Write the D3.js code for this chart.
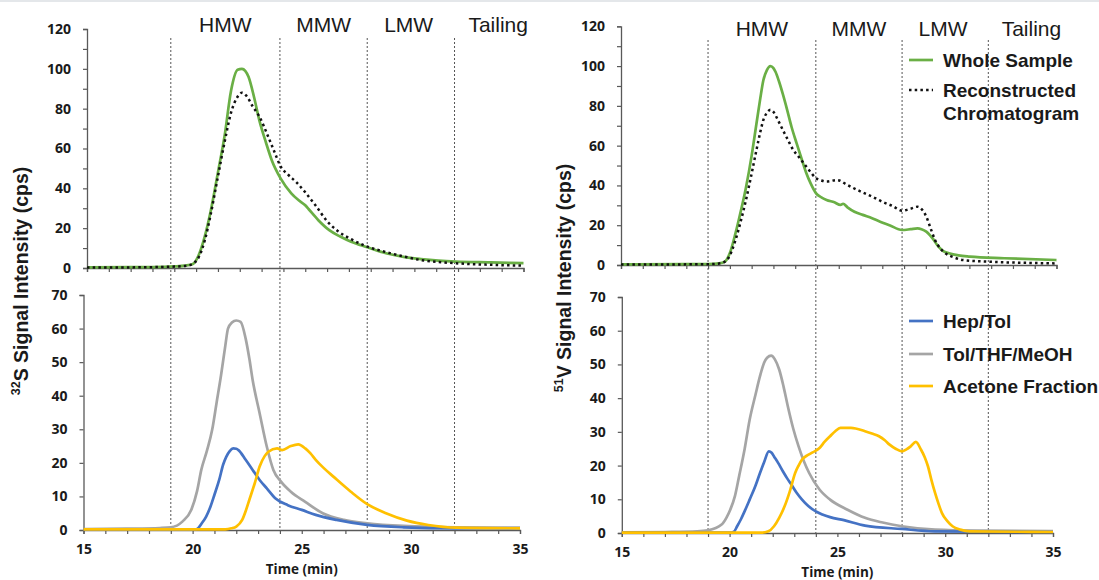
<!DOCTYPE html>
<html><head><meta charset="utf-8">
<script src="https://cdn.jsdelivr.net/npm/d3@7"></script>
<style>body{margin:0;background:#fff}svg{display:block}</style>
</head><body>
<svg id="c" width="1099" height="580"></svg>
<script>
// ---------- DATA ----------
const regionBounds = [19, 24, 28, 32];
const regionLabels = ["HMW", "MMW", "LMW", "Tailing"];
const regionLabelPos = [21.5, 26, 29.9, 34];
const xTicksMajor = [15, 20, 25, 30, 35];

// 32S panel, whole sample vs reconstructed
const sWhole = [[15,0.3],[17,0.4],[18.5,0.6],[19,0.8],[19.5,1.2],[19.85,2],[20.1,6],[20.4,16],[20.65,27.6],[21,48],[21.3,66],[21.6,89],[21.9,99.5],[22.1,100],[22.25,99],[22.4,96],[22.65,86],[22.9,74],[23.2,63],[23.47,54],[23.87,45],[24.36,37.5],[24.7,34],[25.0,31.5],[25.16,29.5],[25.6,24],[26.1,19],[26.6,15.8],[27.1,13.2],[27.85,10.4],[28.7,7.4],[29.5,5.6],[30.3,4.5],[31.1,3.7],[31.9,3.2],[33.5,2.8],[35,2.4]];
const sRecon = [[15,0.2],[17,0.3],[19,0.7],[19.6,1.2],[19.9,2.5],[20.1,5],[20.4,14],[20.65,26],[21,46],[21.3,63],[21.6,78],[21.9,86],[22.1,88],[22.3,86.5],[22.6,81],[22.9,76],[23.3,66],[23.6,58],[23.87,51],[24.2,47],[24.6,43],[25.0,38],[25.5,31],[26.0,23.5],[26.5,18.5],[27.1,14.5],[27.85,10.7],[28.7,8],[29.5,5.8],[30.3,4],[31.9,2.4],[33.5,1.6],[35,1.2]];
// 32S panel, fractions
const sHepTol = [[15,0.1],[20,0.1],[20.2,0.3],[20.42,2],[20.62,4],[20.82,7],[21.0,10.5],[21.22,15],[21.4,19.5],[21.54,21.8],[21.7,23.5],[21.86,24.3],[22.0,24.2],[22.1,23.8],[22.43,20.9],[22.75,17.9],[23.07,14.9],[23.4,12.4],[23.8,9.4],[24.36,7.4],[25.0,6],[25.64,4.5],[26.6,3],[28,1.5],[29.66,0.8],[32,0.5],[35,0.5]];
const sTolThf = [[15,0.3],[17,0.4],[18.5,0.6],[19,0.8],[19.53,2.5],[19.94,6],[20.2,11.5],[20.4,18],[20.65,23.5],[20.9,30],[21.1,38],[21.3,46],[21.5,55],[21.62,60],[21.8,61.8],[22.0,62.4],[22.2,62],[22.43,57],[22.6,51],[22.75,44.7],[23.07,34.8],[23.4,24.8],[23.7,17.9],[24.05,14.4],[24.5,11.4],[25.16,8.4],[25.96,5],[26.93,3],[28,2],[29.66,1.2],[32.07,0.8],[35,0.7]];
const sAcetone = [[15,0.2],[21.5,0.2],[21.78,0.5],[22.0,1],[22.27,3],[22.45,6],[22.6,9],[22.85,14],[23.07,18.9],[23.3,22],[23.47,23.3],[23.87,24.3],[24.1,23.8],[24.5,25],[24.84,25.5],[25.16,24.3],[25.4,22.8],[25.64,20.9],[26.0,18.5],[26.45,15.9],[27.25,11.4],[28,7.7],[28.86,5],[29.82,2.8],[30.8,1.5],[32.07,0.7],[35,0.5]];

// 51V panel, whole sample vs reconstructed
const vWhole = [[15,0.3],[18,0.4],[19,0.5],[19.5,0.8],[19.77,1.7],[20.0,6],[20.26,16],[20.5,27],[20.74,39],[21.0,55],[21.22,71],[21.4,84],[21.54,93],[21.7,98],[21.86,100],[22.0,99],[22.1,97],[22.25,92.5],[22.43,86],[22.63,78],[22.83,69.5],[23.07,61],[23.31,52.8],[23.5,46.5],[23.71,41],[23.96,36],[24.2,34],[24.44,32.7],[24.8,31.5],[25.08,30.2],[25.2,30.8],[25.4,29],[25.72,26.8],[26.1,25.2],[26.53,23.5],[26.9,21.8],[27.33,20],[27.9,17.6],[28.3,18],[28.62,18.4],[28.8,18],[29.02,16.8],[29.3,13.5],[29.58,9.2],[29.8,7],[30.06,5.9],[30.5,4.8],[31.03,4.2],[32.6,3.4],[35,2.5]];
const vRecon = [[15,0.2],[19,0.4],[19.6,0.9],[19.9,3],[20.26,12.6],[20.5,22],[20.74,32.7],[21.0,46],[21.22,57.8],[21.4,67],[21.54,73],[21.7,76.5],[21.86,78],[22.0,77],[22.2,73],[22.45,67.5],[22.67,62.8],[22.9,58],[23.15,54.5],[23.4,51],[23.63,47.8],[23.96,43.6],[24.2,42.5],[24.44,42],[24.92,42.7],[25.4,40.2],[25.8,38],[26.2,36],[26.6,34],[27.0,31.8],[27.5,29.5],[27.9,27.3],[28.3,28.3],[28.62,29.3],[28.85,27.5],[29.02,24.3],[29.2,19],[29.42,12.6],[29.65,8.5],[29.9,5.9],[30.3,3.8],[30.7,2.5],[31.8,1.7],[33.5,1.1],[35,0.8]];
// 51V panel, fractions
const vHepTol = [[15,0.1],[20.0,0.1],[20.2,0.4],[20.35,2],[20.52,4],[20.7,6.5],[20.93,9.9],[21.2,14],[21.41,17.8],[21.6,21],[21.82,24.2],[21.95,23.8],[22.06,22.7],[22.25,20.8],[22.47,18.3],[22.67,16.2],[22.87,14.3],[23.1,12],[23.36,9.9],[23.65,8],[24.0,6.4],[24.3,5.5],[24.66,4.7],[25.3,3.8],[26.28,2.2],[27.99,1.2],[29.5,0.5],[35,0.3]];
const vTolThf = [[15,0.2],[17,0.3],[18.5,0.5],[19,0.8],[19.63,2.5],[19.85,4.5],[20.03,6.9],[20.25,11],[20.44,16.8],[20.7,25],[20.93,33.6],[21.2,41],[21.41,46.5],[21.6,50.5],[21.74,52],[21.93,52.6],[22.1,51.5],[22.3,48.5],[22.5,43.5],[22.7,37.6],[22.95,31],[23.2,25.7],[23.45,21.2],[23.69,17.8],[24.17,12.9],[24.66,9.9],[25.47,6.9],[26.28,4.5],[27.1,3.1],[27.99,2],[29.53,1],[31.5,0.7],[35,0.6]];
const vAcetone = [[15,0.1],[21.5,0.1],[21.8,0.5],[22.06,2],[22.3,4.5],[22.55,7.9],[22.8,12.5],[23.04,17.8],[23.2,20],[23.36,21.8],[23.6,23],[23.85,23.9],[24.17,25.2],[24.4,27],[24.66,28.7],[24.9,30.2],[25.14,31.2],[25.63,31.2],[26.28,30.2],[26.6,29.5],[26.93,28.7],[27.2,27.5],[27.42,26.2],[27.7,25],[27.99,24.2],[28.2,24.8],[28.4,25.7],[28.64,27],[28.88,24.7],[29.05,22.5],[29.2,19.8],[29.35,16],[29.53,11.9],[29.7,8.5],[29.85,5.9],[30.1,3.5],[30.34,2],[30.7,1],[31.15,0.5],[35,0.3]];

const topLegend = ["Whole Sample", "Reconstructed", "Chromatogram"];
const botLegend = ["Hep/Tol", "Tol/THF/MeOH", "Acetone Fraction"];

// ---------- STYLE ----------
const C = {green:"#6aaf45", blue:"#4472c4", gray:"#a5a5a5", yellow:"#ffc000", axis:"#595959", text:"#1a1a1a"};
const tickFont = "'Open Sans', sans-serif";
const arial = "'Liberation Sans', Arial, sans-serif";

const svg = d3.select("#c");
svg.append("rect").attr("x",0).attr("y",0).attr("width",1099).attr("height",2).attr("fill","#e4e7ea");

const panels = [
  {top:{x:[87,523.5], y:[268,29]}, bot:{x:[83.5,520], y:[530,295]}, whole:sWhole, recon:sRecon, hep:sHepTol, tol:sTolThf, ace:sAcetone, dotTop:38, labelY:32, iso:"32", el:"S", titleX:23, titleY:281, xTitleY:574},
  {top:{x:[621,1056.5], y:[265,26.3]}, bot:{x:[621.8,1053], y:[533,297]}, whole:vWhole, recon:vRecon, hep:vHepTol, tol:vTolThf, ace:vAcetone, dotTop:40, labelY:35.5, iso:"51", el:"V", titleX:566, titleY:278, xTitleY:577}
];

function styleAxis(g){
  g.select(".domain").attr("stroke",C.axis).attr("stroke-width",1.3);
  g.selectAll(".tick line").attr("stroke",C.axis).attr("stroke-width",1.2);
  g.selectAll("text").attr("fill",C.text).attr("font-family",tickFont).attr("font-weight",700);
}

panels.forEach(p => {
  const xT = d3.scaleLinear().domain([15,35]).range(p.top.x);
  const yT = d3.scaleLinear().domain([0,120]).range(p.top.y);
  const xB = d3.scaleLinear().domain([15,35]).range(p.bot.x);
  const yB = d3.scaleLinear().domain([0,70]).range(p.bot.y);

  // region divider lines
  svg.append("g").selectAll("line").data(regionBounds).join("line")
    .attr("x1",d=>xB(d)).attr("x2",d=>xB(d))
    .attr("y1",p.dotTop).attr("y2",yB(0))
    .attr("stroke","#555").attr("stroke-width",1).attr("stroke-dasharray","2,2");

  // region labels
  svg.append("g").selectAll("text").data(regionLabels).join("text")
    .attr("x",(d,i)=>xB(regionLabelPos[i])).attr("y",p.labelY)
    .attr("text-anchor","middle").attr("font-family",arial).attr("font-size",21)
    .attr("fill",C.text).text(d=>d);

  // top axes
  const gyT = svg.append("g").attr("transform",`translate(${p.top.x[0]},0)`)
    .call(d3.axisLeft(yT).tickValues(d3.range(0,121,10)).tickSize(4).tickPadding(12)
      .tickFormat(d=> d%20===0 ? d : ""));
  styleAxis(gyT); gyT.selectAll("text").attr("font-size",14);
  const gxT = svg.append("g").attr("transform",`translate(0,${p.top.y[0]})`)
    .call(d3.axisBottom(xT).tickValues(d3.range(15,36,1)).tickSize(4).tickFormat(""));
  styleAxis(gxT);

  // bottom axes
  const gyB = svg.append("g").attr("transform",`translate(${p.bot.x[0]},0)`)
    .call(d3.axisLeft(yB).tickValues(d3.range(0,71,10)).tickSize(4).tickPadding(12));
  styleAxis(gyB); gyB.selectAll("text").attr("font-size",14);
  const gxB = svg.append("g").attr("transform",`translate(0,${p.bot.y[0]})`)
    .call(d3.axisBottom(xB).tickValues(d3.range(15,36,1)).tickSize(4).tickPadding(10)
      .tickFormat(d=> xTicksMajor.includes(d) ? d : ""));
  styleAxis(gxB); gxB.selectAll("text").attr("font-size",14);

  // x title
  svg.append("text").attr("x",(p.bot.x[0]+p.bot.x[1])/2).attr("y",p.xTitleY)
    .attr("text-anchor","middle").attr("font-family",tickFont).attr("font-weight",700)
    .attr("font-size",13.5).attr("fill",C.text).text("Time (min)");

  // y title
  const t = svg.append("text").attr("transform",`translate(${p.titleX},${p.titleY}) rotate(-90)`)
    .attr("text-anchor","middle").attr("font-family",arial).attr("font-weight",700)
    .attr("font-size",19.5).attr("fill",C.text).attr("dominant-baseline","middle");
  t.append("tspan").attr("font-size",12.5).attr("dy",-6).text(p.iso);
  t.append("tspan").attr("dy",6).text(p.el + " Signal Intensity (cps)");

  const lineT = d3.line().x(d=>xT(d[0])).y(d=>yT(d[1])).curve(d3.curveMonotoneX);
  const lineB = d3.line().x(d=>xB(d[0])).y(d=>yB(d[1])).curve(d3.curveMonotoneX);

  svg.append("path").datum(p.whole).attr("d",lineT).attr("fill","none")
    .attr("stroke",C.green).attr("stroke-width",2.7);
  svg.append("path").datum(p.recon).attr("d",lineT).attr("fill","none")
    .attr("stroke","#111").attr("stroke-width",2.5).attr("stroke-dasharray","2.5,3.2");

  svg.append("path").datum(p.tol).attr("d",lineB).attr("fill","none")
    .attr("stroke",C.gray).attr("stroke-width",2.7);
  svg.append("path").datum(p.hep).attr("d",lineB).attr("fill","none")
    .attr("stroke",C.blue).attr("stroke-width",2.7);
  svg.append("path").datum(p.ace).attr("d",lineB).attr("fill","none")
    .attr("stroke",C.yellow).attr("stroke-width",2.7);
});

// legends (right panel)
const lgX1 = 909, lgX2 = 933, lgTx = 943;
const lgTop = svg.append("g").attr("font-family",arial).attr("font-weight",700).attr("font-size",19).attr("fill",C.text);
lgTop.append("line").attr("x1",lgX1).attr("x2",lgX2).attr("y1",60).attr("y2",60).attr("stroke",C.green).attr("stroke-width",2.7);
lgTop.append("line").attr("x1",lgX1).attr("x2",lgX2).attr("y1",90).attr("y2",90).attr("stroke","#111").attr("stroke-width",2.5).attr("stroke-dasharray","2.5,3.2");
lgTop.selectAll("text").data(topLegend).join("text")
  .attr("x",lgTx).attr("y",(d,i)=>[60,90,113][i]).attr("dy","0.35em").text(d=>d);

const botColors = [C.blue, C.gray, C.yellow];
const botY = [321, 354, 386];
const lgBot = svg.append("g").attr("font-family",arial).attr("font-weight",700).attr("font-size",19).attr("fill",C.text);
lgBot.selectAll("line").data(botLegend).join("line")
  .attr("x1",lgX1).attr("x2",lgX2).attr("y1",(d,i)=>botY[i]).attr("y2",(d,i)=>botY[i])
  .attr("stroke",(d,i)=>botColors[i]).attr("stroke-width",2.7);
lgBot.selectAll("text").data(botLegend).join("text")
  .attr("x",lgTx).attr("y",(d,i)=>botY[i]).attr("dy","0.35em").text(d=>d);
</script>
</body></html>
